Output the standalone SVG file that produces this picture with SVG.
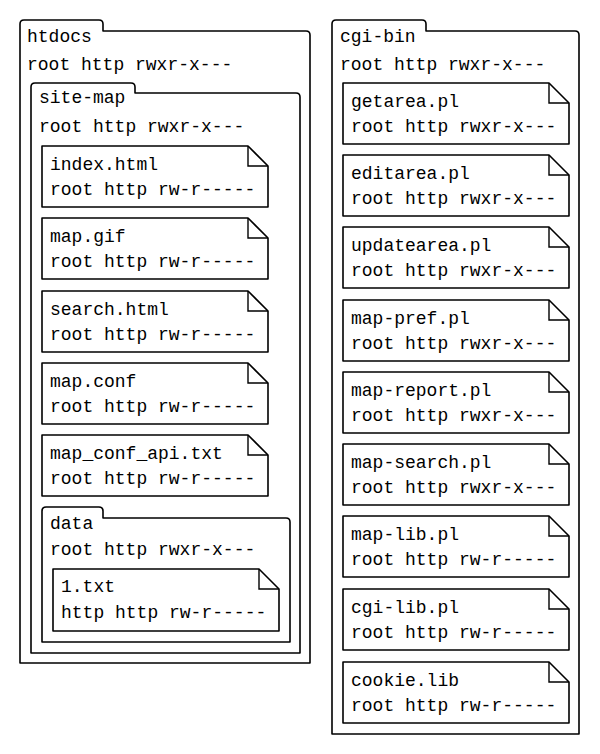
<svg xmlns="http://www.w3.org/2000/svg" width="600" height="754" viewBox="0 0 600 754">
<style>
.shape{fill:#fff;stroke:#000;stroke-width:1.6;stroke-linejoin:round}
.fold{fill:none;stroke:#000;stroke-width:1.4}
text{font-family:"Liberation Mono","Courier New",monospace;font-size:18px;fill:#000}
</style>
<rect x="0" y="0" width="600" height="754" fill="#fff"/>
<defs>
<g id="file">
<path class="shape" d="M0,0 H206 L226,20 V61 H0 Z"/>
<path class="fold" d="M206,0 V20 H226"/>
</g>
</defs>
<g id="htdocs">
<path class="shape" d="M20,663 V24 Q20,20 24,20 H99 Q103,20 103,24 V31 H306 Q310,31 310,35 V663 Z"/>
<text x="27" y="42">htdocs</text>
<text x="27" y="70">root http rwxr-x---</text>
</g>
<g id="site-map">
<path class="shape" d="M31,653 V87 Q31,83 35,83 H131 Q135,83 135,87 V93 H296 Q300,93 300,97 V653 Z"/>
<text x="39" y="103">site-map</text>
<text x="39" y="132">root http rwxr-x---</text>
</g>
<g id="index-html"><use href="#file" x="42" y="146"/><text x="50" y="170">index.html</text><text x="50" y="195">root http rw-r-----</text></g>
<g id="map-gif"><use href="#file" x="42" y="218"/><text x="50" y="242">map.gif</text><text x="50" y="267">root http rw-r-----</text></g>
<g id="search-html"><use href="#file" x="42" y="291"/><text x="50" y="315">search.html</text><text x="50" y="340">root http rw-r-----</text></g>
<g id="map-conf"><use href="#file" x="42" y="363"/><text x="50" y="387">map.conf</text><text x="50" y="412">root http rw-r-----</text></g>
<g id="map-conf-api"><use href="#file" x="42" y="435"/><text x="50" y="459">map_conf_api.txt</text><text x="50" y="484">root http rw-r-----</text></g>
<g id="data">
<path class="shape" d="M42,642 V511 Q42,507 46,507 H99 Q103,507 103,511 V518 H286 Q290,518 290,522 V642 Z"/>
<text x="50" y="529">data</text>
<text x="50" y="555">root http rwxr-x---</text>
</g>
<g id="one-txt"><path class="shape" d="M53,569 H259 L279,589 V631 H53 Z"/><path class="fold" d="M259,569 V589 H279"/><text x="61" y="592">1.txt</text><text x="61" y="618">http http rw-r-----</text></g>
<g id="cgi-bin">
<path class="shape" d="M332,734 V24 Q332,20 336,20 H422 Q426,20 426,24 V31 H575 Q579,31 579,35 V734 Z"/>
<text x="340" y="42">cgi-bin</text>
<text x="340" y="70">root http rwxr-x---</text>
</g>
<g id="getarea"><use href="#file" x="343" y="83"/><text x="351" y="107">getarea.pl</text><text x="351" y="132">root http rwxr-x---</text></g>
<g id="editarea"><use href="#file" x="343" y="155"/><text x="351" y="179">editarea.pl</text><text x="351" y="204">root http rwxr-x---</text></g>
<g id="updatearea"><use href="#file" x="343" y="227"/><text x="351" y="251">updatearea.pl</text><text x="351" y="276">root http rwxr-x---</text></g>
<g id="map-pref"><use href="#file" x="343" y="300"/><text x="351" y="324">map-pref.pl</text><text x="351" y="349">root http rwxr-x---</text></g>
<g id="map-report"><use href="#file" x="343" y="372"/><text x="351" y="396">map-report.pl</text><text x="351" y="421">root http rwxr-x---</text></g>
<g id="map-search"><use href="#file" x="343" y="444"/><text x="351" y="468">map-search.pl</text><text x="351" y="493">root http rwxr-x---</text></g>
<g id="map-lib"><use href="#file" x="343" y="516"/><text x="351" y="540">map-lib.pl</text><text x="351" y="565">root http rw-r-----</text></g>
<g id="cgi-lib"><use href="#file" x="343" y="589"/><text x="351" y="613">cgi-lib.pl</text><text x="351" y="638">root http rw-r-----</text></g>
<g id="cookie-lib"><use href="#file" x="343" y="662"/><text x="351" y="686">cookie.lib</text><text x="351" y="711">root http rw-r-----</text></g>
<g id="connectors"/>
</svg>
